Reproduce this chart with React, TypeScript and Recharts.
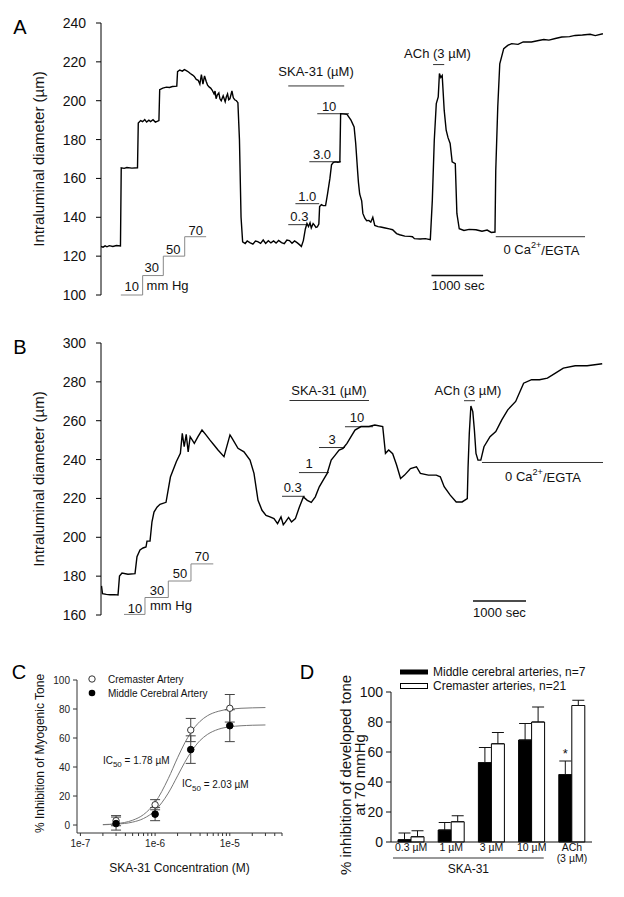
import React from 'react';
import {
  ComposedChart,
  BarChart,
  Bar,
  Line,
  Scatter,
  XAxis,
  YAxis,
  ReferenceLine,
  ErrorBar,
  LabelList,
} from 'recharts';

const FONT = '"Liberation Sans", Arial, Helvetica, sans-serif';

// ---------- Panel A: cremaster artery trace (time in s, diameter in µm) ----------
const timeA = [
  0, 40, 80, 116, 160, 231, 300, 378, 393, 450, 501, 600, 709, 724, 770, 809, 850, 886, 930, 963,
  1010, 1056, 1125, 1140, 1200, 1271, 1330, 1387, 1472, 1487, 1530, 1580, 1620, 1657, 1700, 1734,
  1780, 1811, 1850, 1888, 1920, 1950, 1980, 2011, 2042, 2070, 2104, 2130, 2158, 2196, 2215, 2235,
  2260, 2289, 2310, 2335, 2373, 2412, 2435, 2458, 2480, 2504, 2543, 2570, 2597, 2630, 2659, 2689,
  2720, 2751, 2800, 2840, 2890, 2950, 3000, 3044, 3100, 3150, 3198, 3250, 3300, 3352, 3400, 3450,
  3506, 3560, 3610, 3660, 3710, 3760, 3814, 3860, 3892, 3930, 3969, 4000, 4030, 4060, 4084, 4120,
  4146, 4175, 4200, 4231, 4246, 4280, 4315, 4362, 4400, 4446, 4477, 4510, 4547, 4600, 4639, 4654,
  4700, 4778, 4855, 4916, 4947, 4986, 5000, 5024, 5063, 5086, 5124, 5160, 5202, 5240, 5279, 5317,
  5380, 5433, 5520, 5600, 5664, 5741, 5800, 5900, 6000, 6049, 6088, 6200, 6300, 6396, 6435, 6473,
  6512, 6550, 6573, 6600, 6627, 6666, 6704, 6740, 6781, 6820, 6881, 6912, 6958, 7050, 7150, 7282,
  7400, 7500, 7580, 7652, 7667, 7706, 7745, 7822, 7900, 7976, 8100, 8200, 8361, 8500, 8600, 8700,
  8823, 8950, 9100, 9208, 9350, 9500, 9600, 9748,
];
const diamA = [
  125.0, 124.6, 125.3, 124.8, 125.4, 125.0, 125.5, 125.2, 165.5, 165.2, 165.6, 165.3, 165.5, 188.5,
  189.8, 189.2, 190.3, 189.0, 190.0, 189.3, 190.2, 189.0, 189.8, 205.7, 206.5, 207.0, 206.8, 207.3,
  207.5, 215.0, 215.8, 215.2, 216.0, 215.5, 214.8, 214.0, 213.2, 212.5, 211.0, 210.5, 208.5, 213.5,
  208.5, 212.8, 210.0, 208.0, 207.0, 206.5, 205.5, 203.5, 205.0, 201.0, 203.0, 204.0, 201.0, 200.0,
  202.5, 199.5, 202.0, 203.5, 200.5, 201.0, 205.0, 201.5, 200.5, 200.0, 199.0, 180.0, 140.0, 127.3,
  126.5, 127.8, 127.0, 126.2, 127.8, 127.5, 126.6, 128.3, 126.5, 127.9, 126.8, 127.8, 126.7, 128.1,
  127.0, 126.4, 128.3, 128.0, 126.6, 127.8, 126.8, 125.8, 125.0, 128.0, 134.0, 136.8, 135.2, 137.2,
  134.5, 136.8, 136.0, 134.8, 135.0, 136.5, 145.5, 146.5, 146.0, 146.0, 152.0, 160.0, 167.0, 168.2,
  168.5, 168.3, 168.5, 193.3, 193.2, 193.0, 190.0, 186.5, 178.0, 163.0, 158.0, 152.0, 148.5, 142.0,
  139.5, 138.2, 138.4, 137.5, 140.0, 135.8, 135.2, 135.0, 134.5, 134.0, 133.6, 131.6, 131.0, 130.3,
  130.2, 130.0, 129.0, 128.8, 129.0, 128.5, 148.7, 179.6, 198.5, 202.0, 214.0, 212.0, 213.0, 195.0,
  184.8, 181.0, 178.0, 168.5, 167.6, 142.0, 134.1, 133.2, 133.8, 133.6, 132.8, 133.4, 132.2, 132.4,
  164.0, 196.8, 219.0, 226.8, 228.5, 229.4, 229.0, 230.3, 230.2, 231.0, 231.5, 231.2, 232.0, 232.8,
  233.0, 233.6, 233.8, 234.2, 233.5, 234.5,
];
const ticksA = [100, 120, 140, 160, 180, 200, 220, 240];

// pressure staircase (10/30/50/70 mm Hg)
const stairTA = [385, 809, 809, 1210, 1210, 1626, 1626, 2042];
const stairVA = [100, 100, 110, 110, 120, 120, 130, 130];

// horizontal bars: [start, end, level]
const barsA = [
  [3637, 4724, 207.6],
  [3637, 4007, 136.2],
  [3776, 4238, 147],
  [4046, 4662, 168.6],
  [4200, 4816, 193.3],
  [6450, 6666, 218.6],
  [7667, 9401, 130],
];
const scaleBarA = [6419, 7421, 110];

const notesA = [
  { t: 597, v: 104.3, label: '10' },
  { t: 986, v: 114.4, label: '30' },
  { t: 1402, v: 123.2, label: '50' },
  { t: 1842, v: 133.3, label: '70' },
  { t: 4177, v: 214.8, label: 'SKA-31 (µM)' },
  { t: 3853, v: 140.5, label: '0.3' },
  { t: 4007, v: 150.8, label: '1.0' },
  { t: 4292, v: 172.2, label: '3.0' },
  { t: 4431, v: 197.1, label: '10' },
  { t: 6535, v: 224.2, label: 'ACh (3 µM)' },
  { t: 8554, v: 123.3, label: '0 Ca', sup: '2+', rest: '/EGTA' },
  { t: 6935, v: 105, label: '1000 sec' },
];
const leftNotesA = [{ t: 886, v: 105, label: 'mm Hg' }];

// ---------- Panel B: middle cerebral artery trace ----------
const timeB = [
  9, 28, 100, 170, 250, 321, 349, 396, 509, 642, 679, 736, 793, 849, 868, 925, 962, 1000, 1057,
  1113, 1227, 1310, 1423, 1498, 1534, 1570, 1608, 1645, 1683, 1761, 1830, 1906, 1981, 2057, 2132,
  2208, 2321, 2434, 2472, 2585, 2698, 2812, 2887, 2963, 3038, 3114, 3189, 3264, 3332, 3397, 3440,
  3482, 3540, 3595, 3668, 3744, 3819, 3893, 3968, 4044, 4119, 4193, 4268, 4344, 4419, 4493, 4568,
  4642, 4718, 4793, 4906, 5057, 5167, 5316, 5368, 5429, 5504, 5578, 5653, 5728, 5840, 5953, 6027,
  6178, 6327, 6403, 6476, 6590, 6703, 6814, 6912, 6927, 6950, 6980, 7016, 7046, 7076, 7114, 7167,
  7227, 7341, 7450, 7563, 7676, 7825, 7975, 8125, 8275, 8424, 8575, 8724, 8948, 9173, 9458,
];
const diamB = [
  175.0, 171.0, 170.6, 170.4, 170.5, 170.3, 180.0, 181.6, 181.0, 181.3, 190.0, 193.5, 194.5, 195.0,
  198.0, 198.0, 208.0, 213.0, 215.5, 217.0, 218.0, 231.0, 239.0, 243.2, 253.5, 246.6, 253.0, 244.0,
  251.8, 248.4, 251.8, 255.2, 252.7, 250.0, 247.5, 244.9, 241.5, 252.7, 251.0, 245.8, 244.0, 239.7,
  232.9, 219.0, 213.9, 211.3, 210.5, 209.6, 207.0, 210.5, 206.5, 207.9, 210.2, 207.9, 209.6, 215.6,
  220.8, 219.0, 218.0, 220.8, 226.0, 229.4, 232.9, 239.7, 242.3, 244.9, 245.8, 248.3, 251.8, 255.2,
  257.0, 257.0, 257.8, 257.0, 243.2, 244.9, 243.0, 237.2, 230.3, 232.0, 235.4, 236.3, 232.9, 232.0,
  232.0, 231.1, 226.0, 221.7, 218.2, 218.2, 219.9, 236.3, 253.5, 267.6, 264.7, 255.2, 243.2, 239.7,
  239.7, 246.6, 251.8, 254.4, 260.4, 265.6, 269.9, 279.3, 281.1, 281.1, 281.9, 284.5, 287.1, 288.3,
  288.3, 289.3,
];
const ticksB = [160, 180, 200, 220, 240, 260, 280, 300];

const stairTB = [434, 830, 830, 1270, 1270, 1698, 1698, 2119];
const stairVB = [160.3, 160.3, 169, 169, 177.5, 177.5, 186.3, 186.3];

const barsB = [
  [3557, 5057, 270.4],
  [3416, 3849, 221.1],
  [3736, 4302, 233.3],
  [4114, 4604, 246.2],
  [4604, 5133, 256.9],
  [6850, 7057, 270.3],
  [7189, 9473, 238.5],
];
const scaleBarB = [7020, 8020, 167.2];

const notesB = [
  { t: 642, v: 163.6, label: '10' },
  { t: 1057, v: 172.7, label: '30' },
  { t: 1491, v: 181.2, label: '50' },
  { t: 1906, v: 190.2, label: '70' },
  { t: 4302, v: 275.8, label: 'SKA-31 (µM)' },
  { t: 3617, v: 225.6, label: '0.3' },
  { t: 3925, v: 238.1, label: '1' },
  { t: 4359, v: 250.5, label: '3' },
  { t: 4831, v: 261.5, label: '10' },
  { t: 6925, v: 275.8, label: 'ACh (3 µM)' },
  { t: 8341, v: 231.1, label: '0 Ca', sup: '2+', rest: '/EGTA' },
  { t: 7520, v: 161.3, label: '1000 sec' },
];
const leftNotesB = [{ t: 925, v: 164.8, label: 'mm Hg' }];

// ---------- Panel C: concentration-response ----------
const concC = [3e-7, 1e-6, 3e-6, 1e-5];
const cremC = [3, 14, 65.5, 80.5];
const cremErrC = [3.5, 3.5, 8, 9.5];
const mcaC = [1, 7.5, 52, 68.5];
const mcaErrC = [4.5, 4.5, 9.5, 11];
const fitConc = [2e-7, 3e-7, 5e-7, 7e-7, 1e-6, 1.5e-6, 2e-6, 2.5e-6, 3e-6, 4e-6, 5e-6, 7e-6, 1e-5, 2e-5, 3e-5];
const cremFit = [0.3, 0.9, 3.3, 7.2, 15.5, 32, 46.4, 56.7, 63.7, 71.5, 75.3, 78.4, 79.9, 80.8, 81];
const mcaFit = [0.2, 0.6, 2, 4.5, 10, 22, 33.9, 43.3, 50.1, 58.3, 62.4, 66, 67.7, 68.8, 69];
const ticksCY = [0, 20, 40, 60, 80, 100];
const ticksCX = [
  1e-7, 2e-7, 3e-7, 4e-7, 5e-7, 6e-7, 7e-7, 8e-7, 9e-7,
  1e-6, 2e-6, 3e-6, 4e-6, 5e-6, 6e-6, 7e-6, 8e-6, 9e-6,
  1e-5, 2e-5, 3e-5, 4e-5, 5e-5,
];
const ic50Notes = [
  { t: 2.0e-7, v: 44.8, label: 'IC', sub: '50', rest: ' = 1.78 µM' },
  { t: 2.29e-6, v: 28.3, label: 'IC', sub: '50', rest: ' = 2.03 µM' },
];

// ---------- Panel D: bar chart ----------
const catsD = ['0.3 µM', '1 µM', '3 µM', '10 µM', 'ACh|(3 µM)'];
const mcaD = [1.5, 8, 53, 68, 45];
const mcaErrD = [4.5, 5, 10, 11, 9];
const creD = [3.5, 13.5, 65.5, 80, 91];
const creErrD = [4, 4, 7.5, 10, 3.5];
const sigD = ['', '', '', '', '*'];
const ticksDY = [0, 20, 40, 60, 80, 100];

const traceA = timeA.map((t, i) => ({ t, v: diamA[i] }));
const traceB = timeB.map((t, i) => ({ t, v: diamB[i] }));
const stairA = stairTA.map((t, i) => ({ t, v: stairVA[i] }));
const stairB = stairTB.map((t, i) => ({ t, v: stairVB[i] }));
const cremPts = concC.map((t, i) => ({ t, v: cremC[i], e: cremErrC[i] }));
const mcaPts = concC.map((t, i) => ({ t, v: mcaC[i], e: mcaErrC[i] }));
const cremCurve = fitConc.map((t, i) => ({ t, v: cremFit[i] }));
const mcaCurve = fitConc.map((t, i) => ({ t, v: mcaFit[i] }));
const dataD = catsD.map((cat, i) => ({
  cat,
  mca: mcaD[i],
  cre: creD[i],
  mcaErr: [0, mcaErrD[i]],
  creErr: [0, creErrD[i]],
  sig: sigD[i],
}));

const makeNote = (size: number, anchor: 'start' | 'middle') => (p: any) => {
  const n = p.payload;
  return (
    <text
      x={p.cx}
      y={p.cy}
      textAnchor={anchor}
      dominantBaseline="central"
      fontSize={size}
      fontFamily={FONT}
      fill="#111"
    >
      {n.label}
      {n.sup && (
        <tspan dy={-5} fontSize={size * 0.7}>
          {n.sup}
        </tspan>
      )}
      {n.sub && (
        <tspan dy={4} fontSize={size * 0.8}>
          {n.sub}
        </tspan>
      )}
      {n.rest && <tspan dy={n.sup ? 5 : -4}>{n.rest}</tspan>}
    </text>
  );
};

const yTitle = (lines: string[], dx: number, size: number, dy = 0, gap = 15) => (props: any) => {
  const vb = props.viewBox || { x: 0, y: 0, width: 0, height: 0 };
  const y = vb.y + vb.height / 2 + dy;
  return (
    <g>
      {lines.map((line, i) => {
        const x = vb.x + dx + i * gap;
        return (
          <text
            key={i}
            x={x}
            y={y}
            transform={`rotate(-90 ${x} ${y})`}
            textAnchor="middle"
            dominantBaseline="central"
            fontSize={size}
            fontFamily={FONT}
            fill="#111"
          >
            {line}
          </text>
        );
      })}
    </g>
  );
};

const openDot = (p: any) => <circle cx={p.cx} cy={p.cy} r={3.2} fill="#fff" stroke="#333" strokeWidth={1} />;
const fullDot = (p: any) => <circle cx={p.cx} cy={p.cy} r={3.3} fill="#000" stroke="#000" />;

const logTick = (p: any) => {
  const val = p.payload.value;
  const e = Math.round(Math.log10(val));
  if (Math.abs(val - Math.pow(10, e)) > val * 1e-6) return <g />;
  return (
    <text x={p.x} y={p.y} dy="0.71em" textAnchor="middle" fontSize={10} fontFamily={FONT} fill="#222">
      {`1e${e}`}
    </text>
  );
};

const catTick = (p: any) => {
  const lines = String(p.payload.value).split('|');
  return (
    <g>
      {lines.map((l, i) => (
        <text
          key={i}
          x={p.x}
          y={p.y + i * 11}
          dy="0.71em"
          textAnchor="middle"
          fontSize={10.5}
          fontFamily={FONT}
          fill="#111"
        >
          {l}
        </text>
      ))}
    </g>
  );
};

const skaGroup = (props: any) => {
  const vb = props.viewBox;
  const x1 = vb.x + 2;
  const x2 = vb.x + vb.width * 0.76;
  return (
    <g>
      <line x1={x1} x2={x2} y1={vb.y + 16} y2={vb.y + 16} stroke="#333" strokeWidth={1} />
      <text x={(x1 + x2) / 2} y={vb.y + 27} textAnchor="middle" dominantBaseline="central" fontSize={12} fontFamily={FONT} fill="#111">
        SKA-31
      </text>
    </g>
  );
};

const xTitleC = (props: any) => {
  const vb = props.viewBox;
  return (
    <text x={vb.x + vb.width / 2} y={vb.y + 35} textAnchor="middle" dominantBaseline="central" fontSize={12} fontFamily={FONT} fill="#111">
      SKA-31 Concentration (M)
    </text>
  );
};

const Letter = ({ ch, x, y }: { ch: string; x: number; y: number }) => (
  <div
    style={{
      position: 'absolute',
      left: x,
      top: y,
      transform: 'translate(-50%, -50%)',
      fontSize: 20,
      fontFamily: FONT,
      color: '#000',
      lineHeight: 1,
    }}
  >
    {ch}
  </div>
);

const Trace = ({
  data, stair, bars, scaleBar, notes, leftNotes, domainY, ticks, domainX,
}: any) => (
  <ComposedChart width={624} height={310} margin={{ top: 23, right: 21, bottom: 15, left: 0 }}>
    <XAxis dataKey="t" type="number" domain={domainX} allowDataOverflow hide />
    <YAxis
      type="number"
      domain={domainY}
      ticks={ticks}
      interval={0}
      width={101}
      tickSize={5}
      tickMargin={10}
      axisLine={{ stroke: '#000' }}
      tickLine={{ stroke: '#000' }}
      tick={{ fontSize: 14, fill: '#111', fontFamily: FONT }}
      label={yTitle(['Intraluminal diameter (µm)'], 38, 15)}
    />
    {bars.map((b: number[], i: number) => (
      <ReferenceLine
        key={i}
        segment={[{ x: b[0], y: b[2] }, { x: b[1], y: b[2] }]}
        stroke="#333"
        strokeWidth={1}
        ifOverflow="visible"
      />
    ))}
    <ReferenceLine
      segment={[{ x: scaleBar[0], y: scaleBar[2] }, { x: scaleBar[1], y: scaleBar[2] }]}
      stroke="#111"
      strokeWidth={1.6}
      ifOverflow="visible"
    />
    <Line data={stair} dataKey="v" type="linear" stroke="#888" strokeWidth={1} dot={false} activeDot={false} isAnimationActive={false} />
    <Line data={data} dataKey="v" type="linear" stroke="#000" strokeWidth={1.4} dot={false} activeDot={false} isAnimationActive={false} />
    <Scatter data={notes} dataKey="v" shape={makeNote(13, 'middle')} isAnimationActive={false} />
    <Scatter data={leftNotes} dataKey="v" shape={makeNote(13, 'start')} isAnimationActive={false} />
  </ComposedChart>
);

export default function App() {
  return (
    <div
      style={{
        position: 'absolute',
        left: 0,
        top: 0,
        width: 624,
        height: 897,
        background: '#fff',
        overflow: 'hidden',
        fontFamily: FONT,
      }}
    >
      <div style={{ position: 'absolute', left: 0, top: 0 }}>
        <Trace
          data={traceA}
          stair={stairA}
          bars={barsA}
          scaleBar={scaleBarA}
          notes={notesA}
          leftNotes={leftNotesA}
          domainY={[100, 240]}
          ticks={ticksA}
          domainX={[0, 9750]}
        />
      </div>
      <div style={{ position: 'absolute', left: 0, top: 320 }}>
        <Trace
          data={traceB}
          stair={stairB}
          bars={barsB}
          scaleBar={scaleBarB}
          notes={notesB}
          leftNotes={leftNotesB}
          domainY={[160, 300]}
          ticks={ticksB}
          domainX={[0, 9473]}
        />
      </div>

      {/* C */}
      <div style={{ position: 'absolute', left: 0, top: 640 }}>
        <ComposedChart width={300} height={257} margin={{ top: 40, right: 18, bottom: 0, left: 0 }}>
          <XAxis
            dataKey="t"
            type="number"
            scale="log"
            domain={[9e-8, 5e-5]}
            allowDataOverflow
            ticks={ticksCX}
            interval={0}
            height={64}
            tickSize={3}
            tickMargin={4}
            axisLine={{ stroke: '#333' }}
            tickLine={{ stroke: '#333' }}
            tick={logTick}
            label={xTitleC}
          />
          <YAxis
            type="number"
            domain={[-5.5, 100]}
            ticks={ticksCY}
            interval={0}
            width={77}
            tickSize={4}
            tickMargin={3}
            axisLine={{ stroke: '#333' }}
            tickLine={{ stroke: '#333' }}
            tick={{ fontSize: 10, fill: '#222', fontFamily: FONT }}
            label={yTitle(['% Inhibition of Myogenic Tone'], 40, 12, -3)}
          />
          <Line data={cremCurve} dataKey="v" type="monotone" stroke="#777" strokeWidth={1} dot={false} activeDot={false} isAnimationActive={false} />
          <Line data={mcaCurve} dataKey="v" type="monotone" stroke="#777" strokeWidth={1} dot={false} activeDot={false} isAnimationActive={false} />
          <Scatter data={cremPts} dataKey="v" shape={openDot} isAnimationActive={false}>
            <ErrorBar dataKey="e" direction="y" width={5} stroke="#444" strokeWidth={1} />
          </Scatter>
          <Scatter data={mcaPts} dataKey="v" shape={fullDot} isAnimationActive={false}>
            <ErrorBar dataKey="e" direction="y" width={5} stroke="#444" strokeWidth={1} />
          </Scatter>
          <Scatter data={ic50Notes} dataKey="v" shape={makeNote(10, 'start')} isAnimationActive={false} />
        </ComposedChart>
      </div>

      {/* D */}
      <div style={{ position: 'absolute', left: 300, top: 640 }}>
        <BarChart
          width={324}
          height={257}
          data={dataD}
          margin={{ top: 52, right: 32, bottom: 0, left: 0 }}
          barGap={0}
          barCategoryGap={7}
        >
          <XAxis
            dataKey="cat"
            height={55}
            tickSize={0}
            tickMargin={2}
            tickLine={false}
            interval={0}
            axisLine={{ stroke: '#111' }}
            tick={catTick}
            label={skaGroup}
          />
          <YAxis
            domain={[0, 100]}
            ticks={ticksDY}
            interval={0}
            width={91}
            tickSize={5}
            tickMargin={3}
            axisLine={{ stroke: '#111' }}
            tickLine={{ stroke: '#111' }}
            tick={{ fontSize: 14, fill: '#111', fontFamily: FONT }}
            label={yTitle(['% inhibition of developed tone', 'at 70 mmHg'], 45, 15, 8, 14)}
          />
          <Bar dataKey="mca" fill="#000" stroke="#000" isAnimationActive={false}>
            <ErrorBar dataKey="mcaErr" direction="y" width={6} stroke="#111" strokeWidth={1} />
            <LabelList dataKey="sig" position="top" offset={17} fontSize={13} fill="#111" fontFamily={FONT} />
          </Bar>
          <Bar dataKey="cre" fill="#fff" stroke="#000" strokeWidth={1} isAnimationActive={false}>
            <ErrorBar dataKey="creErr" direction="y" width={6} stroke="#111" strokeWidth={1} />
          </Bar>
        </BarChart>
      </div>

      {/* legends */}
      <svg width={624} height={897} style={{ position: 'absolute', left: 0, top: 0, pointerEvents: 'none' }}>
        <circle cx={92} cy={679} r={3.2} fill="#fff" stroke="#333" />
        <text x={108} y={679} dominantBaseline="central" fontSize={10} fontFamily={FONT} fill="#111">
          Cremaster Artery
        </text>
        <circle cx={92} cy={693} r={3.3} fill="#000" />
        <text x={108} y={693} dominantBaseline="central" fontSize={10} fontFamily={FONT} fill="#111">
          Middle Cerebral Artery
        </text>
        <rect x={400} y={669.5} width={28} height={5} fill="#000" />
        <text x={433} y={672} dominantBaseline="central" fontSize={12} fontFamily={FONT} fill="#111">
          Middle cerebral arteries, n=7
        </text>
        <rect x={400.5} y={683.5} width={27} height={5} fill="#fff" stroke="#000" />
        <text x={433} y={686} dominantBaseline="central" fontSize={12} fontFamily={FONT} fill="#111">
          Cremaster arteries, n=21
        </text>
      </svg>

      <Letter ch="A" x={20} y={27} />
      <Letter ch="B" x={20} y={347} />
      <Letter ch="C" x={19} y={672} />
      <Letter ch="D" x={307} y={672} />
    </div>
  );
}
